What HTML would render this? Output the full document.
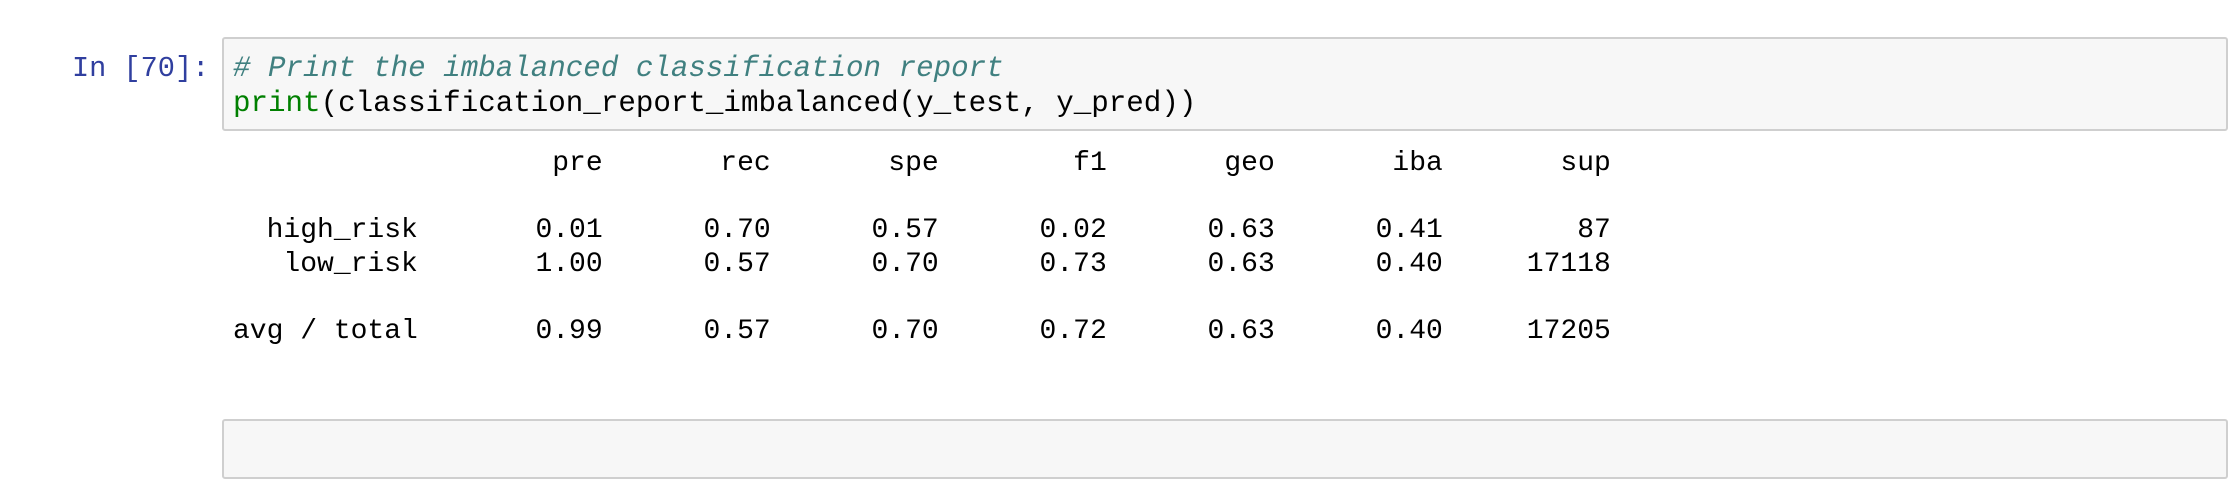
<!DOCTYPE html>
<html><head><meta charset="utf-8">
<style>
html,body{margin:0;padding:0;background:#fff;width:2238px;height:442px;overflow:hidden;}
.mono{font-family:"Liberation Mono","DejaVu Sans Mono",monospace;font-size:28.6px;white-space:pre;position:absolute;margin:0;}
.box{position:absolute;background:#f7f7f7;border:2px solid #cfcfcf;border-radius:3px;box-sizing:border-box;}
</style></head>
<body>
<div class="mono" style="left:72px;top:51px;color:#303F9F;line-height:35px;">In [70]:</div>
<div class="box" style="left:222px;top:37px;width:2006px;height:94px;"></div>
<pre class="mono" style="left:233px;top:51px;line-height:35px;color:#000;font-size:29.2px;"><span style="color:#408080;font-style:italic"># Print the imbalanced classification report</span>
<span style="color:#008000">print</span>(classification_report_imbalanced(y_test, y_pred))</pre>
<pre class="mono" style="left:233px;top:147px;line-height:33.5px;color:#000;font-size:28.0px;">                   pre       rec       spe        f1       geo       iba       sup

  high_risk       0.01      0.70      0.57      0.02      0.63      0.41        87
   low_risk       1.00      0.57      0.70      0.73      0.63      0.40     17118

avg / total       0.99      0.57      0.70      0.72      0.63      0.40     17205</pre>
<div class="box" style="left:222px;top:419px;width:2006px;height:60px;"></div>
</body></html>
